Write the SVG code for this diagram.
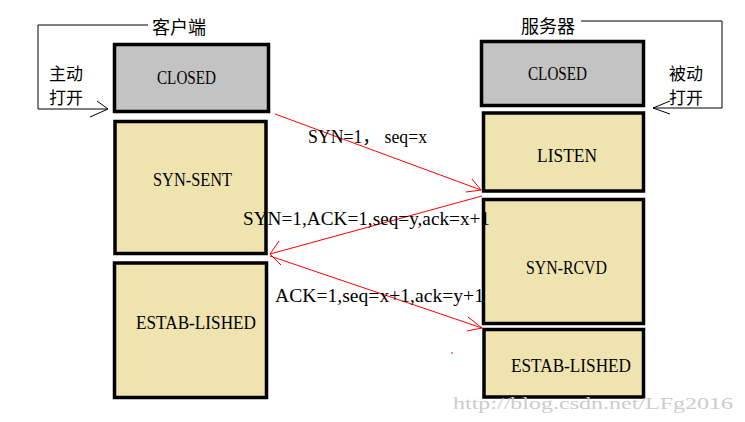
<svg xmlns="http://www.w3.org/2000/svg" width="745" height="422" viewBox="0 0 745 422">
<style>
.box{stroke:#000;stroke-width:3.5}
.gray{fill:#c3c3c3}
.tan{fill:#efe4b0}
.lbl{font-family:"Liberation Serif","Noto Sans CJK SC",serif;font-size:18.5px;fill:#000}
.cjk{font-family:"Noto Sans CJK SC",sans-serif;font-size:18px;fill:#000}
.side{font-family:"Noto Sans CJK SC",sans-serif;font-size:17px;fill:#000}
.red{stroke:#ff0000;stroke-width:1;fill:none}
.blk{stroke:#000;stroke-width:1;fill:none}
</style>
<rect width="745" height="422" fill="#fff"/>
<g id="client-title"><text class="cjk" x="152" y="34">客户端</text></g>
<g id="server-title"><text class="cjk" x="521" y="33">服务器</text></g>
<g id="active-open"><text class="side" x="49" y="80">主动</text><text class="side" x="49" y="104">打开</text></g>
<g id="passive-open"><text class="side" x="669" y="80">被动</text><text class="side" x="669" y="104">打开</text></g>
<g id="c-closed"><rect class="box gray" x="114.5" y="44.5" width="154" height="67"/><text class="lbl" x="157" y="84" textLength="59" lengthAdjust="spacingAndGlyphs">CLOSED</text></g>
<g id="c-synsent"><rect class="box tan" x="115" y="121.5" width="151" height="132"/><text class="lbl" x="153" y="186" textLength="79" lengthAdjust="spacingAndGlyphs">SYN-SENT</text></g>
<g id="c-established"><rect class="box tan" x="114.5" y="263" width="152" height="134.5"/><text class="lbl" x="136" y="329" textLength="120" lengthAdjust="spacingAndGlyphs">ESTAB-LISHED</text></g>
<g id="s-closed"><rect class="box gray" x="481.5" y="41.5" width="162" height="64"/><text class="lbl" x="528" y="80" textLength="59" lengthAdjust="spacingAndGlyphs">CLOSED</text></g>
<g id="s-listen"><rect class="box tan" x="483.5" y="113" width="160" height="78"/><text class="lbl" x="537" y="162" textLength="60" lengthAdjust="spacingAndGlyphs">LISTEN</text></g>
<g id="s-synrcvd"><rect class="box tan" x="483.5" y="199.5" width="160" height="124"/><text class="lbl" x="526" y="274" textLength="81" lengthAdjust="spacingAndGlyphs">SYN-RCVD</text></g>
<g id="s-established"><rect class="box tan" x="484" y="329.5" width="159.5" height="67.5"/><text class="lbl" x="511" y="372" textLength="120" lengthAdjust="spacingAndGlyphs">ESTAB-LISHED</text></g>
<g id="connectors">
<polyline class="blk" points="148,25 38,25 38,109 108,109"/>
<polyline class="blk" points="97,101 108,109 90,117"/>
<polyline class="blk" points="581,21 722,21 722,108 653,108"/>
<polyline class="blk" points="670,101 653,108 670,114"/>
<line class="red" x1="275" y1="114" x2="481" y2="190"/>
<polyline class="red" points="472,179 481,190 466,192"/>
<line class="red" x1="482" y1="196" x2="270" y2="254"/>
<polyline class="red" points="279,241 270,254 281,265"/>
<line class="red" x1="270" y1="256" x2="482" y2="328"/>
<polyline class="red" points="468,317 482,328 467,331"/>
<line class="red" x1="451" y1="353" x2="453" y2="353"/>
</g>
<g id="labels">
<text class="lbl" x="308" y="143" textLength="119" lengthAdjust="spacingAndGlyphs">SYN=1， seq=x</text>
<text class="lbl" x="243" y="225" textLength="247" lengthAdjust="spacingAndGlyphs">SYN=1,ACK=1,seq=y,ack=x+1</text>
<text class="lbl" x="275" y="302" textLength="209" lengthAdjust="spacingAndGlyphs">ACK=1,seq=x+1,ack=y+1</text>
</g>
<g id="watermark"><text x="453" y="409" font-family="Liberation Serif,serif" font-size="16" fill="#cccccc" textLength="280" lengthAdjust="spacingAndGlyphs">http://blog.csdn.net/LFg2016</text></g>
</svg>
